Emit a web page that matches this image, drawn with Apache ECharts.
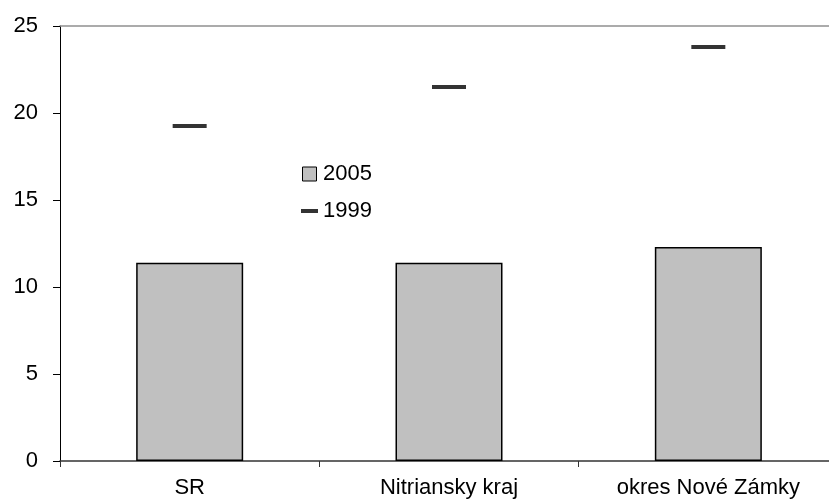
<!DOCTYPE html>
<html>
<head>
<meta charset="utf-8">
<style>
  html, body { margin: 0; padding: 0; background: #fff; }
  #chart { width: 829px; height: 501px; }
</style>
<script src="https://cdn.jsdelivr.net/npm/echarts@6/dist/echarts.min.js"></script>
</head>
<body>
<div id="chart"></div>
<script>
const categories = ['SR', 'Nitriansky kraj', 'okres Nové Zámky']
const values2005 = [11.4, 11.4, 12.3]
const values1999 = [19.25, 21.5, 23.8]
const yTicks = [0, 5, 10, 15, 20, 25]

const font = 'Liberation Sans, Arial, sans-serif'

echarts.init(document.getElementById('chart')).setOption({
  animation: false,
  grid: { left: 60, top: 26, width: 778, bottom: 40, outerBoundsMode: 'none' },
  legend: {
    orient: 'vertical',
    left: 296,
    top: 158,
    itemWidth: 17,
    itemHeight: 14,
    itemGap: 15,
    itemTextGap: 7,
    textStyle: { fontFamily: font, fontSize: 22, color: '#000' },
    data: [
      {
        name: '2005',
        icon: 'path://M0,0h10v10h-10z',
        itemStyle: { color: '#c0c0c0', borderColor: '#000', borderWidth: 1 },
      },
      { name: '1999', icon: 'path://M0,0h17v4h-17z', itemStyle: { color: '#000' } },
    ],
  },
  xAxis: [
    {
      type: 'category',
      data: categories,
      axisLine: { lineStyle: { color: '#333', width: 1.5 } },
      axisTick: { show: true, length: 6, lineStyle: { color: '#333' } },
      axisLabel: { fontFamily: font, fontSize: 22, color: '#000', margin: 16 },
    },
    {
      type: 'category',
      position: 'top',
      data: categories,
      axisLine: { show: true, lineStyle: { color: '#909090', width: 1.5 } },
      axisTick: { show: false },
      axisLabel: { show: false },
    },
  ],
  yAxis: {
    type: 'value',
    min: yTicks[0],
    max: yTicks[yTicks.length - 1],
    interval: 5,
    axisLine: { show: true, lineStyle: { color: '#000', width: 1 } },
    axisTick: { show: true, length: 7, lineStyle: { color: '#000' } },
    splitLine: { show: false },
    axisLabel: { fontFamily: font, fontSize: 22, color: '#000', margin: 22 },
  },
  series: [
    {
      name: '2005',
      type: 'bar',
      data: values2005,
      barWidth: 107,
      itemStyle: { color: '#c0c0c0', borderColor: '#000', borderWidth: 1.5 },
    },
    {
      name: '1999',
      type: 'scatter',
      data: values1999,
      symbol: 'rect',
      symbolSize: [34, 4],
      itemStyle: { color: '#000' },
    },
  ],
})
</script>
</body>
</html>
